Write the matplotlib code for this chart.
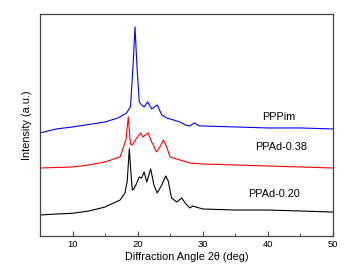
import numpy as np
import matplotlib
matplotlib.use('Agg')
import matplotlib.pyplot as plt
from matplotlib.ticker import MultipleLocator

plt.rcParams['font.family'] = ['Liberation Sans', 'DejaVu Sans']

# PPPim (blue)
x_pppim = [5, 7.5, 10, 12.5, 15, 17, 17.8, 18.3, 18.9, 19.28, 19.59, 19.9,
           20.25, 20.6, 21.0, 21.53, 22.15, 23.02, 23.7, 24.45, 25.5, 26.5,
           27.3, 28.0, 28.7, 29.5, 30, 35, 40, 45, 50]
y_pppim = [103, 107, 109, 111.5, 114, 118, 121, 123, 129, 169, 209, 169,
           134, 131, 129, 134, 127, 131, 121, 118, 116, 114,
           111, 110, 113, 110, 110, 109, 108, 108, 107]

# PPAd-0.38 (red)
x_038 = [5, 7.5, 10, 12.5, 15, 17.3, 18.2, 18.56, 18.9, 19.18, 19.85, 20.46,
         20.8, 21.6, 22.15, 22.9, 23.5, 23.94, 24.46, 24.97, 26.0, 26.5,
         28.0, 30, 35, 40, 45, 50]
y_038 = [68, 68.5, 69, 71, 74, 79, 96, 119, 92, 91, 98, 103,
         99, 103, 94, 84, 90, 96, 89, 79, 77, 76,
         73, 72, 71, 70, 69, 68]

# PPAd-0.20 (black)
x_020 = [5, 7.5, 10, 12.5, 15, 16.3, 17.3, 18.05, 18.4, 18.72, 19.0, 19.18,
         19.4, 19.8, 20.25, 20.6, 21.0, 21.4, 22.0, 22.5, 23.0, 23.7, 24.3,
         24.7, 25.2, 26.0, 26.76, 27.3, 28.0, 28.45, 29.5, 30, 35, 40, 45, 50]
y_020 = [21, 22, 22.7, 25, 29, 33, 36, 43, 55, 87, 60, 46,
         47, 52, 59, 58, 64, 54, 67, 51, 43, 51, 60,
         55, 38, 34, 38, 33, 28, 30, 28, 27, 26, 26, 25, 24]

labels = ['PPPim', 'PPAd-0.38', 'PPAd-0.20']

fig = plt.figure(figsize=(3.52, 2.78), dpi=100)
ax = fig.add_axes([0.1136, 0.151, 0.8324, 0.799])

ax.plot(x_pppim, y_pppim, color='#0000ff', lw=0.8)
ax.plot(x_038, y_038, color='#ff0000', lw=0.8)
ax.plot(x_020, y_020, color='black', lw=0.8)

ax.text(41.6, 119, labels[0], fontsize=7.8, ha='center', va='center')
ax.text(42.0, 89, labels[1], fontsize=7.8, ha='center', va='center')
ax.text(40.9, 42, labels[2], fontsize=7.8, ha='center', va='center')

ax.set_xlim(5, 50)
ax.set_ylim(0, 222)
ax.set_yticks([])
ax.xaxis.set_major_locator(MultipleLocator(10))
ax.xaxis.set_minor_locator(MultipleLocator(5))
ax.tick_params(axis='x', which='both', direction='in', labelsize=6.8, pad=3,
               color='#444444')
ax.tick_params(axis='x', which='major', length=3.5)
ax.tick_params(axis='x', which='minor', length=2.5)
for s in ax.spines.values():
    s.set_color('#444444')
    s.set_linewidth(0.9)

ax.set_xlabel('Diffraction Angle 2\u03b8 (deg)', fontsize=7.8, labelpad=2)
ax.set_ylabel('Intensity (a.u.)', fontsize=7.8, labelpad=6)

fig.savefig('out.png', dpi=100)
